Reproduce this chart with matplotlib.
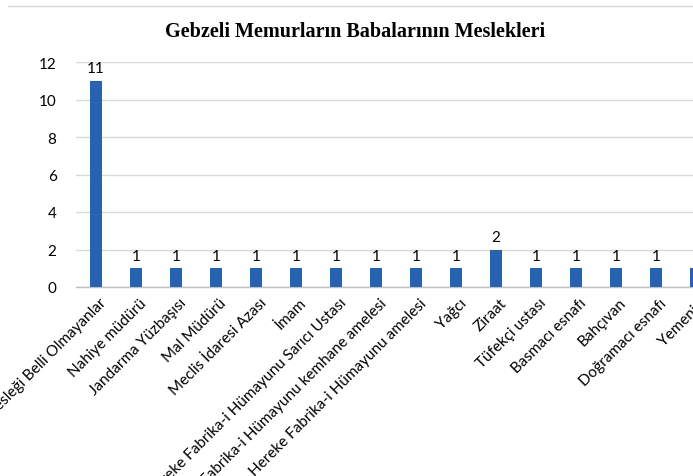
import matplotlib
matplotlib.use("Agg")
import matplotlib.pyplot as plt
import numpy as np

# data
categories = [
    "Mesleği Belli Olmayanlar",
    "Nahiye müdürü",
    "Jandarma Yüzbaşısı",
    "Mal Müdürü",
    "Meclis İdaresi Azası",
    "İmam",
    "Hereke Fabrika-i Hümayunu Sarıcı Ustası",
    "Hereke Fabrika-i Hümayunu kemhane amelesi",
    "Hereke Fabrika-i Hümayunu amelesi",
    "Yağcı",
    "Ziraat",
    "Tüfekçi ustası",
    "Basmacı esnafı",
    "Bahçıvan",
    "Doğramacı esnafı",
    "Yemenici",
]
counts = [11, 1, 1, 1, 1, 1, 1, 1, 1, 1, 2, 1, 1, 1, 1, 1]
yticks = [0, 2, 4, 6, 8, 10, 12]

TITLE = "Gebzeli Memurların Babalarının Meslekleri"
BAR_COLOR = "#2763b0"
GRID_COLOR = "#d9d9d9"

W, H, DPI = 693, 477, 100

fig = plt.figure(figsize=(W / DPI, H / DPI), dpi=DPI)

# axes runs past the right edge, like the cropped original
ax_left, ax_right = 76, 716
ax_top, ax_bottom = 63, 288
ax = fig.add_axes([ax_left / W, 1 - ax_bottom / H,
                   (ax_right - ax_left) / W, (ax_bottom - ax_top) / H])

x = np.arange(len(categories))
bars = ax.bar(x, counts, width=0.3, color=BAR_COLOR, zorder=3)

ax.set_xlim(-0.5, len(categories) - 0.5)
ax.set_ylim(0, 12)
ax.set_yticks(yticks)
ax.yaxis.grid(True, color=GRID_COLOR, linewidth=1)
ax.set_axisbelow(True)

for s in ["top", "right", "left"]:
    ax.spines[s].set_visible(False)
ax.spines["bottom"].set_color("#bfbfbf")
ax.spines["bottom"].set_linewidth(1)

ax.tick_params(axis="y", length=0, pad=14, labelsize=11, labelcolor="#000000")
ax.tick_params(axis="x", length=0, pad=6)
ax.set_xticks(x + 0.08)
ax.set_xticklabels(categories, rotation=45, ha="right", rotation_mode="anchor",
                   fontsize=11, family="Lato")
for lab in ax.get_yticklabels():
    lab.set_family("Lato")

ax.bar_label(bars, labels=[str(c) for c in counts], padding=4,
             fontsize=11, family="Lato")

fig.text(355 / W, 1 - 32 / H, TITLE, ha="center", va="center",
         fontsize=14.5, fontweight="bold", family="Liberation Serif")

# thin border line at the top of the chart area
fig.add_artist(plt.Line2D([8 / W, 1], [1 - 7 / H, 1 - 7 / H],
                          color="#d9d9d9", linewidth=1, transform=fig.transFigure))

fig.savefig("out.png", dpi=DPI)
